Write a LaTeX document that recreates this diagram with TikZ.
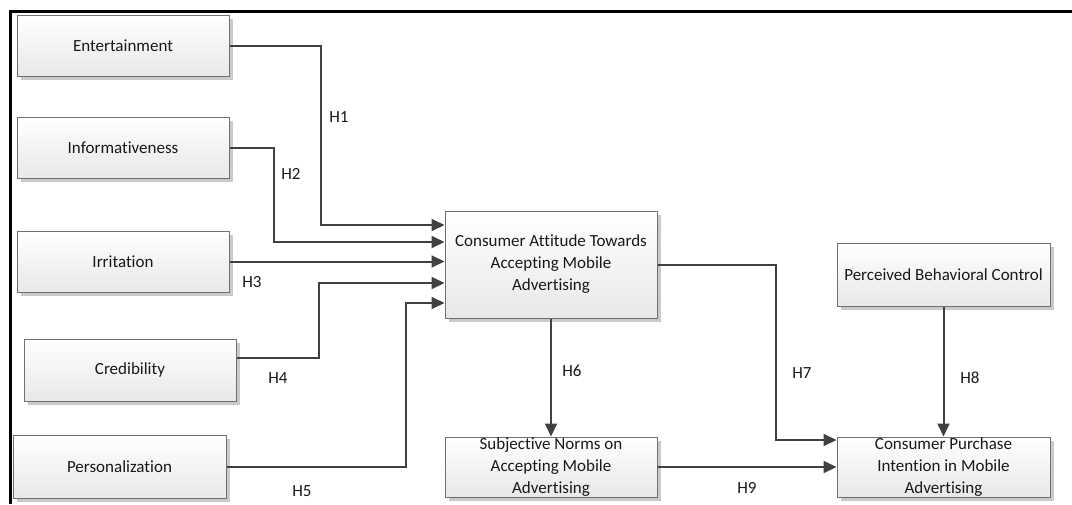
\documentclass[tikz,border=0pt]{standalone}
\usepackage{fontspec}
\setmainfont{Carlito}[Ligatures={NoCommon}]
\usetikzlibrary{arrows.meta,shadows}
\definecolor{linec}{HTML}{404040}
\definecolor{boxline}{HTML}{707070}
\definecolor{shadowc}{HTML}{CACACA}
\begin{document}
\begin{tikzpicture}[x=1pt,y=-1pt,
  box/.style={rectangle, draw=boxline, line width=1pt, top color=white, bottom color=black!9,
    general shadow={fill=shadowc, shadow xshift=3.5pt, shadow yshift=-3.5pt},
    align=center, inner sep=0pt, text=black!90,
    font=\fontsize{17}{22}\selectfont},
  conn/.style={draw=linec, line width=2pt, -{Triangle[length=13pt,width=12pt]}},
  hlab/.style={font=\fontsize{17}{22}\selectfont, text=black!90, inner sep=0pt}]
\useasboundingbox (0,0) rectangle (1072,504);
\draw[line width=3pt, black] (10.5,504) -- (10.5,11) -- (1072,11);

% left column
\node[box, minimum width=212pt, minimum height=61pt] (ent) at (123,45.5) {Entertainment};
\node[box, minimum width=212pt, minimum height=61pt] (inf) at (123,147.5) {Informativeness};
\node[box, minimum width=212pt, minimum height=61pt] (irr) at (123,261.5) {Irritation};
\node[box, minimum width=212pt, minimum height=62pt] (cred) at (130,370) {Credibility};
\node[box, minimum width=213pt, minimum height=63pt] (pers) at (119.5,466.5) {Personalization};

% center / right
\node[box, minimum width=212pt, minimum height=107pt] (att) at (551,264.5)
  {Consumer Attitude Towards\\Accepting Mobile\\Advertising};
\node[box, minimum width=212pt, minimum height=60pt] (subj) at (551,467)
  {Subjective Norms on\\Accepting Mobile\\Advertising};
\node[box, minimum width=213pt, minimum height=63pt] (pbc) at (943.5,274.5)
  {Perceived Behavioral Control};
\node[box, minimum width=213pt, minimum height=60pt] (pur) at (943.5,467)
  {Consumer Purchase\\Intention in Mobile\\Advertising};

% connectors
\coordinate (a1) at (att.west |- 0,225);
\coordinate (a2) at (att.west |- 0,242);
\coordinate (a3) at (att.west |- 0,261.5);
\coordinate (a4) at (att.west |- 0,283);
\coordinate (a5) at (att.west |- 0,303);
\draw[conn] (ent.east) -| (321,225) -- (a1);
\draw[conn] (inf.east) -| (274,242) -- (a2);
\draw[conn] (irr.east) -- (a3);
\draw[conn] ([yshift=12pt]cred.east) -| (319,283) -- (a4);
\draw[conn] (pers.east) -| (406,303) -- (a5);
\draw[conn] (att.south) -- (subj.north);
\coordinate (p7) at (pur.west |- 0,440);
\draw[conn] (att.east) -| (776,440) -- (p7);
\draw[conn] (pbc.south) -- (pur.north);
\draw[conn] (subj.east) -- (pur.west);

% labels
\node[hlab] (h1) at (339,117) {H1};
\node[hlab] (h2) at (291,174) {H2};
\node[hlab] (h3) at (252,282) {H3};
\node[hlab] (h4) at (278,378) {H4};
\node[hlab] (h5) at (302,491) {H5};
\node[hlab] (h6) at (572,371) {H6};
\node[hlab] (h7) at (802,373) {H7};
\node[hlab] (h8) at (970,378) {H8};
\node[hlab] (h9) at (747,488) {H9};
\end{tikzpicture}
\end{document}
